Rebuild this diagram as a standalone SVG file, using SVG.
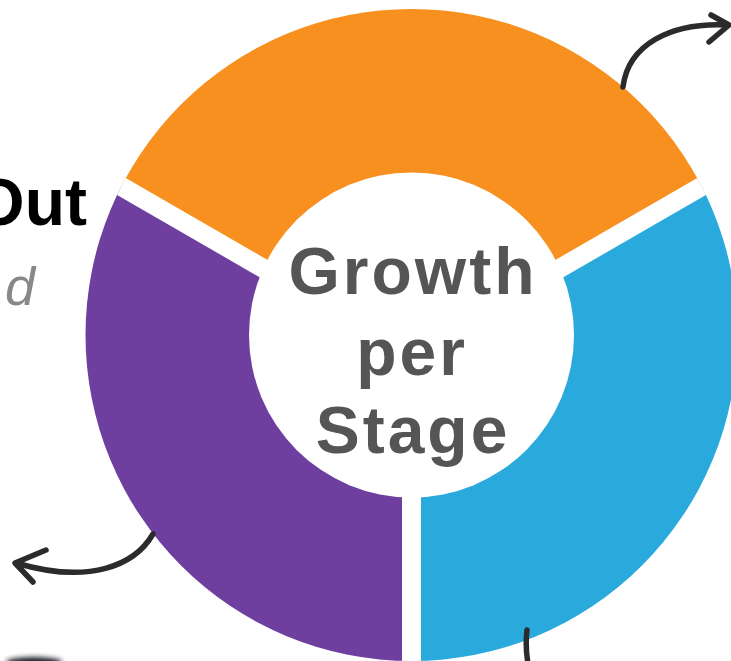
<svg xmlns="http://www.w3.org/2000/svg" width="731" height="661" viewBox="0 0 731 661">
<style>
.arrow{fill:none;stroke:#2b2b2b;stroke-width:5.5;stroke-linecap:round;stroke-linejoin:round}
.gap{stroke:#fff;stroke-width:19;fill:none}
.center{font-family:"Liberation Sans",Arial,sans-serif;font-weight:bold;font-size:66px;fill:#555555;text-anchor:middle;letter-spacing:3px}
</style>
<defs>
<clipPath id="outer"><circle cx="411.5" cy="335" r="326"/></clipPath>
<filter id="blur" x="-50%" y="-50%" width="200%" height="200%"><feGaussianBlur stdDeviation="2.5"/></filter>
</defs>
<rect width="731" height="661" fill="#ffffff"/>
<g id="text-left">
<text x="87" y="225" font-family="Liberation Sans,Arial,sans-serif" font-weight="bold" font-size="66" fill="#000" text-anchor="end">Out</text>
<text x="35" y="305" font-family="Liberation Sans,Arial,sans-serif" font-style="italic" font-size="54" fill="#888" text-anchor="end">d</text>
</g>
<g id="donut" clip-path="url(#outer)">
<polygon id="seg-orange" points="411.5,354 -108,54 -108,-400 931,-400 931,54" fill="#F7901E"/>
<polygon id="seg-blue" points="411.5,354 931,54 931,1000 411.5,1000" fill="#29A9DC"/>
<polygon id="seg-purple" points="411.5,354 411.5,1000 -108,1000 -108,54" fill="#6F3FA0"/>
<path class="gap" d="M411.5,354 L-108,54 M411.5,354 L931,54 M411.5,354 L411.5,1000"/>
</g>
<g id="hub">
<circle cx="411.5" cy="335" r="162.5" fill="#fff"/>
<text class="center" x="413" y="294">Growth</text>
<text class="center" x="412" y="375">per</text>
<text class="center" x="413" y="453">Stage</text>
</g>
<g id="connectors">
<path class="arrow" d="M623,87 C628,45 670,22 728,25"/>
<path class="arrow" d="M711,15 L729,25 L709,42"/>
<path class="arrow" d="M153,534 C135,565 90,585 16,563"/>
<path class="arrow" d="M46,550 L15,563 L33,582"/>
<path class="arrow" d="M527,630 Q525,645 528,664"/>
</g>
<ellipse cx="34" cy="662" rx="28" ry="5" fill="#1e1e2a" filter="url(#blur)"/>
</svg>
